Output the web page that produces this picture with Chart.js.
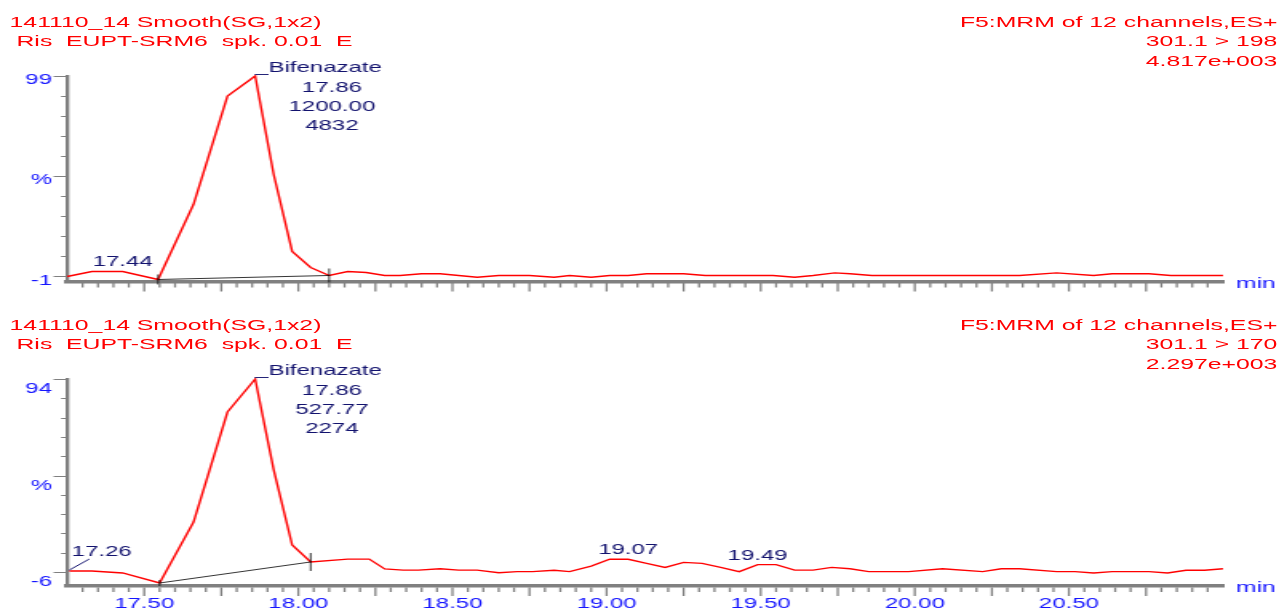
<!DOCTYPE html>
<html lang="en">
<head>
<meta charset="UTF-8">
<title>Bifenazate MRM chromatogram</title>
<script src="https://cdn.jsdelivr.net/npm/chart.js@4.4.0/dist/chart.umd.min.js"></script>
<style>
    * { margin: 0; padding: 0; box-sizing: border-box; }
    body { background: #fff; width: 1279px; height: 612px; overflow: hidden; font-family: "Liberation Sans", Arial, sans-serif; }
    /* the source print is a horizontally stretched bitmap: draw at 800px wide, then stretch */
    #stage { position: absolute; left: 0; top: 0; width: 800px; height: 612px; transform: scaleX(1.59875); transform-origin: 0 0; }
    #stage canvas { position: absolute; left: 0; }
    .hdr { position: absolute; color: #ff0000; font-size: 15.5px; line-height: 19.5px; white-space: pre; }
    .hdr.left { left: 6px; }
    .hdr.right { right: 1px; text-align: right; }
</style>
</head>
<body>
<div id="stage">
    <canvas id="topChart" width="800" height="300" style="top:0"></canvas>
    <canvas id="bottomChart" width="800" height="312" style="top:300px"></canvas>

    <div class="hdr left" style="top:11.9px">141110_14 Smooth(SG,1x2)
 Ris  EUPT-SRM6  spk. 0.01  E</div>
    <div class="hdr right" style="top:11.9px">F5:MRM of 12 channels,ES+
301.1 &gt; 198
4.817e+003</div>

    <div class="hdr left" style="top:314.9px">141110_14 Smooth(SG,1x2)
 Ris  EUPT-SRM6  spk. 0.01  E</div>
    <div class="hdr right" style="top:314.9px">F5:MRM of 12 channels,ES+
301.1 &gt; 170
2.297e+003</div>
</div>

<script>
    // ---- data ----
    const xTickLabels = ['17.50', '18.00', '18.50', '19.00', '19.50', '20.00', '20.50'];

    // 301.1 > 198 trace
    const topTimes = [17.25, 17.33, 17.43, 17.545, 17.66, 17.77, 17.86, 17.92, 17.98, 18.04,
        18.10, 18.16, 18.22, 18.28, 18.33, 18.40, 18.46, 18.58, 18.65, 18.75,
        18.83, 18.88, 18.95, 19.01, 19.07, 19.13, 19.25, 19.32, 19.54, 19.61,
        19.67, 19.74, 19.79, 19.86, 20.34, 20.46, 20.58, 20.64, 20.76, 20.83, 21.00];
    const topValues = [-1.0, 1.5, 1.5, -2.5, 35, 89, 99, 50, 11.5, 3.5,
        -0.5, 1.5, 1.0, -0.5, -0.5, 0.35, 0.35, -1.35, -0.5, -0.5,
        -1.35, -0.5, -1.35, -0.5, -0.5, 0.35, 0.35, -0.5, -0.5, -1.35,
        -0.5, 0.8, 0.35, -0.5, -0.5, 0.8, -0.5, 0.35, 0.35, -0.5, -0.5];
    const topBaseTimes = [17.545, 18.10];
    const topBaseValues = [-2.5, -0.5];
    const topYTicks = [-1, 9, 19, 29, 39, 49, 59, 69, 79, 89, 99];
    const topYLabels = ['-1', '', '', '', '', '%', '', '', '', '', '99'];
    const topPeakInfo = ['17.86', '1200.00', '4832'];
    const topMarks = ['17.44'];

    // 301.1 > 170 trace
    const bottomTimes = [17.257, 17.33, 17.43, 17.55, 17.66, 17.77, 17.86, 17.92, 17.98, 18.04,
        18.16, 18.23, 18.28, 18.34, 18.39, 18.46, 18.52, 18.58, 18.65, 18.71,
        18.76, 18.83, 18.88, 18.95, 19.01, 19.07, 19.13, 19.19, 19.25, 19.31,
        19.37, 19.43, 19.49, 19.55, 19.61, 19.67, 19.73, 19.79, 19.85, 19.98,
        20.09, 20.22, 20.28, 20.34, 20.46, 20.52, 20.58, 20.64, 20.76, 20.82,
        20.88, 20.94, 21.00];
    const bottomValues = [-5.5, -5.5, -6.5, -11.7, 19.9, 76.9, 94, 47, 8, -0.8,
        0.7, 0.7, -4.4, -5.0, -5.0, -4.3, -5.0, -5.0, -6.4, -5.8,
        -5.8, -5.1, -5.8, -2.9, 0.6, 0.6, -1.5, -3.6, -1.0, -1.5,
        -3.6, -5.8, -2.2, -2.2, -5.0, -5.0, -3.6, -4.3, -5.8, -5.8,
        -4.3, -5.8, -4.3, -4.3, -5.8, -5.8, -6.5, -5.8, -5.8, -6.5,
        -5.1, -5.1, -4.3];
    const bottomBaseTimes = [17.55, 18.04];
    const bottomBaseValues = [-11.7, -0.8];
    const bottomYTicks = [-6, 4, 14, 24, 34, 44, 54, 64, 74, 84, 94];
    const bottomYLabels = ['-6', '', '', '', '', '%', '', '', '', '', '94'];
    const bottomPeakInfo = ['17.86', '527.77', '2274'];
    const bottomMarks = ['17.26', '19.07', '19.49'];

    const compoundName = 'Bifenazate';

    // ---- styling ----
    const RED = '#ff0000';
    const BLUE = '#1515ff';
    const NAVY = '#12126e';
    const GREY = '#808080';
    const FONT = '"Liberation Sans", Arial, sans-serif';

    function series(times, values) {
        return times.map((t, i) => ({ x: t, y: values[i] }));
    }

    function nearestPoint(data, t) {
        let best = data[0];
        data.forEach(p => { if (Math.abs(p.x - t) < Math.abs(best.x - t)) best = p; });
        return best;
    }

    // tick marks of the instrument plot: short every 0.05 min, longer every 0.25 min
    const axisMarks = {
        id: 'axisMarks',
        afterDraw(chart) {
            const { ctx, chartArea: a, scales: { x, y } } = chart;
            ctx.save();
            ctx.strokeStyle = GREY;
            ctx.lineWidth = 1.3;
            x.ticks.forEach(t => {
                const px = x.getPixelForValue(t.value);
                if (px < a.left + 3 || px > a.right - 3) return;
                const major = Math.round(t.value * 100) % 25 === 0;
                ctx.beginPath();
                ctx.moveTo(px, a.bottom + 1.5);
                ctx.lineTo(px, a.bottom + (major ? 10 : 6));
                ctx.stroke();
            });
            ctx.lineWidth = 1;
            y.ticks.forEach(t => {
                const py = Math.round(y.getPixelForValue(t.value)) + 0.5;
                const len = t.label ? 8.5 : 3.8;
                ctx.beginPath();
                ctx.moveTo(a.left - len, py);
                ctx.lineTo(a.left, py);
                ctx.stroke();
            });
            // axis unit
            ctx.fillStyle = BLUE;
            ctx.font = '15.5px ' + FONT;
            ctx.textAlign = 'left';
            ctx.textBaseline = 'alphabetic';
            ctx.fillText('min', a.right + 8, a.bottom + 6);
            ctx.restore();
        }
    };

    // peak labels: compound block at the main peak and retention times of small peaks
    const peakNotes = {
        id: 'peakNotes',
        afterDatasetsDraw(chart, args, opts) {
            const { ctx, chartArea: a, scales: { x, y } } = chart;
            const trace = chart.data.datasets[1].data;
            ctx.save();
            ctx.fillStyle = NAVY;
            ctx.strokeStyle = NAVY;
            ctx.font = '15px ' + FONT;
            ctx.textBaseline = 'alphabetic';

            const peak = nearestPoint(trace, parseFloat(opts.info[0]));
            const px = x.getPixelForValue(peak.x);
            const py = y.getPixelForValue(peak.y);
            ctx.textAlign = 'left';
            ctx.fillText('_' + compoundName, px, py - 4);
            ctx.textAlign = 'center';
            opts.info.forEach((txt, i) => ctx.fillText(txt, px + 48, py + 16 + i * 19.2));

            opts.marks.forEach(txt => {
                const p = nearestPoint(trace, parseFloat(txt));
                const mx = x.getPixelForValue(p.x);
                const my = y.getPixelForValue(p.y);
                const w = ctx.measureText(txt).width;
                if (mx - w / 2 < a.left) {
                    ctx.lineWidth = 1;
                    ctx.beginPath();
                    ctx.moveTo(mx, my - 1);
                    ctx.lineTo(mx + 12.5, my - 12);
                    ctx.stroke();
                    ctx.textAlign = 'left';
                    ctx.fillText(txt, mx + 1.5, my - 15);
                } else {
                    ctx.textAlign = 'center';
                    ctx.fillText(txt, mx, my - 5);
                }
            });
            ctx.restore();
        }
    };

    function buildPanel(canvasId, p) {
        return new Chart(document.getElementById(canvasId), {
            type: 'line',
            data: {
                datasets: [
                    {
                        data: series(p.baseTimes, p.baseValues),
                        borderColor: '#000',
                        borderWidth: 0.8,
                        pointStyle: 'line',
                        pointRotation: 90,
                        pointRadius: p.baseMarks,
                        pointBorderColor: '#000',
                        pointBorderWidth: 0.8
                    },
                    {
                        data: series(p.times, p.values),
                        borderColor: RED,
                        borderWidth: 1.4,
                        pointRadius: 0,
                        tension: 0
                    }
                ]
            },
            options: {
                responsive: false,
                animation: false,
                events: [],
                clip: false,
                layout: { padding: { top: p.padTop, right: 35, left: 0, bottom: 0 } },
                plugins: {
                    legend: { display: false },
                    tooltip: { enabled: false },
                    peakNotes: { info: p.info, marks: p.marks }
                },
                scales: {
                    x: {
                        type: 'linear',
                        min: 17.25,
                        max: 21.0,
                        afterFit: s => { s.height = p.xHeight; },
                        grid: { drawOnChartArea: false, drawTicks: false },
                        border: { display: true, color: GREY, width: 3.5 },
                        ticks: {
                            stepSize: 0.05,
                            includeBounds: false,
                            autoSkip: false,
                            maxRotation: 0,
                            padding: 9,
                            color: BLUE,
                            font: { family: FONT, size: 15 },
                            callback: v => {
                                if (!p.showX) return '';
                                const i = xTickLabels.findIndex(l => Math.abs(parseFloat(l) - v) < 1e-6);
                                return i >= 0 ? xTickLabels[i] : '';
                            }
                        }
                    },
                    y: {
                        min: p.yMin,
                        max: p.yMax,
                        afterFit: s => { s.width = 42; },
                        afterBuildTicks: s => { s.ticks = p.yTicks.map(v => ({ value: v })); },
                        grid: { drawOnChartArea: false, drawTicks: false },
                        border: { display: true, color: GREY, width: 2.3 },
                        ticks: {
                            autoSkip: false,
                            padding: 9.5,
                            labelOffset: p.labelOffset,
                            color: BLUE,
                            font: { family: FONT, size: 15 },
                            callback: (v, i) => p.yLabels[i]
                        }
                    }
                }
            },
            plugins: [axisMarks, peakNotes]
        });
    }

    buildPanel('topChart', {
        times: topTimes, values: topValues,
        baseTimes: topBaseTimes, baseValues: topBaseValues, baseMarks: [5, 7],
        yTicks: topYTicks, yLabels: topYLabels,
        info: topPeakInfo, marks: topMarks,
        yMin: -3.5, yMax: 99, padTop: 76, xHeight: 18, labelOffset: 4, showX: false
    });

    buildPanel('bottomChart', {
        times: bottomTimes, values: bottomValues,
        baseTimes: bottomBaseTimes, baseValues: bottomBaseValues, baseMarks: [3, 9],
        yTicks: bottomYTicks, yLabels: bottomYLabels,
        info: bottomPeakInfo, marks: bottomMarks,
        yMin: -13.25, yMax: 94, padTop: 79, xHeight: 26, labelOffset: 10, showX: true
    });
</script>
</body>
</html>
